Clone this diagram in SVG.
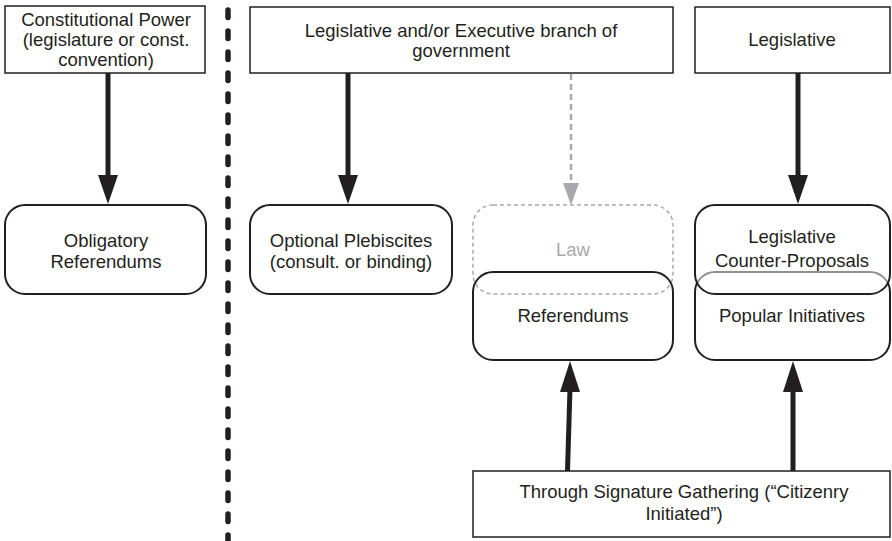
<svg xmlns="http://www.w3.org/2000/svg" width="892" height="541" viewBox="0 0 892 541">
<style>
text{font-family:"Liberation Sans",Arial,sans-serif;font-size:18.5px;fill:#231f20;text-anchor:middle}
.rect{fill:#fff;stroke:#231f20;stroke-width:1.5}
.rnd{fill:none;stroke:#231f20;stroke-width:2}
.arr{stroke:#231f20;stroke-width:5;fill:none}
.head{fill:#231f20}
</style>
<rect width="892" height="541" fill="#fff"/>
<line x1="228" y1="10" x2="228" y2="541" stroke="#231f20" stroke-width="5.5" stroke-linecap="round" stroke-dasharray="7.5 13.5"/>
<g id="connectors">
<line class="arr" x1="108" y1="73" x2="108" y2="178"/>
<polygon class="head" points="98,175 118,175 108,204"/>
<line class="arr" x1="348" y1="73" x2="348" y2="178"/>
<polygon class="head" points="338,175 358,175 348,204"/>
<line class="arr" x1="798" y1="73" x2="798" y2="178"/>
<polygon class="head" points="788,175 808,175 798,204"/>
<line x1="571" y1="74" x2="571" y2="186" stroke="#a7a9ac" stroke-width="2.5" stroke-dasharray="6 4"/>
<polygon points="563,183 579,183 571,205" fill="#a7a9ac"/>
<line class="arr" x1="567.5" y1="471" x2="570" y2="388"/>
<polygon class="head" points="560,392 580,392 570,361"/>
<line class="arr" x1="793" y1="471" x2="793" y2="388"/>
<polygon class="head" points="783,392 803,392 793,361"/>
</g>
<g id="constitutional-power">
<rect class="rect" x="5" y="6" width="200" height="67"/>
<text x="106" y="26">Constitutional Power</text>
<text x="106" y="46">(legislature or const.</text>
<text x="106" y="66">convention)</text>
</g>
<g id="legislative-executive">
<rect class="rect" x="250" y="7" width="423" height="66"/>
<text x="461" y="37">Legislative and/or Executive branch of</text>
<text x="461" y="57">government</text>
</g>
<g id="legislative">
<rect class="rect" x="695" y="7" width="195" height="66"/>
<text x="792" y="46">Legislative</text>
</g>
<g id="obligatory-referendums">
<rect class="rnd" x="5" y="205" width="201" height="89" rx="20"/>
<text x="106" y="247">Obligatory</text>
<text x="106" y="268">Referendums</text>
</g>
<g id="optional-plebiscites">
<rect class="rnd" x="250" y="205" width="202" height="89" rx="20"/>
<text x="351" y="247">Optional Plebiscites</text>
<text x="351" y="268">(consult. or binding)</text>
</g>
<g id="law">
<rect x="473" y="205" width="200" height="89" rx="20" fill="#fff" stroke="#a7a9ac" stroke-width="1.5" stroke-dasharray="4 3"/>
<text x="573" y="256" style="fill:#a7a9ac">Law</text>
</g>
<g id="referendums">
<rect class="rnd" x="473" y="272" width="200" height="88" rx="20"/>
<text x="573" y="322">Referendums</text>
</g>
<g id="popular-initiatives">
<rect class="rnd" x="695" y="272" width="195" height="88" rx="20"/>
<text x="792" y="322">Popular Initiatives</text>
</g>
<g id="legislative-counter-proposals">
<rect x="695" y="205" width="195" height="89" rx="20" fill="#fff" fill-opacity="0.5" stroke="#231f20" stroke-width="2"/>
<text x="792" y="243">Legislative</text>
<text x="792" y="267">Counter-Proposals</text>
</g>
<g id="signature-gathering">
<rect class="rect" x="473" y="471" width="417" height="66"/>
<text x="684" y="498">Through Signature Gathering (“Citizenry</text>
<text x="684" y="520">Initiated”)</text>
</g>
</svg>
